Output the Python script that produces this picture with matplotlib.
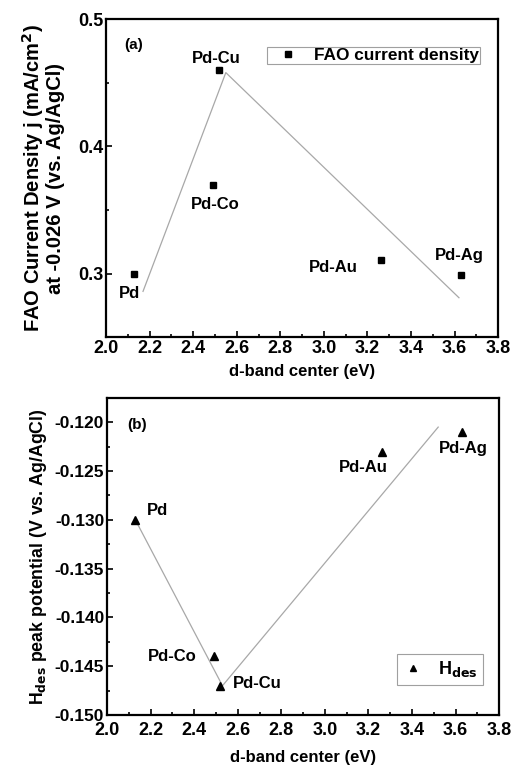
import matplotlib
matplotlib.use("Agg")
import matplotlib.pyplot as plt
from matplotlib.ticker import MultipleLocator

plt.rcParams['font.family'] = ['Liberation Sans', 'DejaVu Sans']
plt.rcParams['font.weight'] = 'bold'
plt.rcParams['axes.labelweight'] = 'bold'
plt.rcParams['mathtext.default'] = 'bf'

# data
names = ['Pd', 'Pd-Co', 'Pd-Cu', 'Pd-Au', 'Pd-Ag']
d_band = [2.13, 2.49, 2.52, 3.26, 3.63]
fao_j = [0.300, 0.370, 0.460, 0.311, 0.299]
h_des = [-0.130, -0.144, -0.147, -0.123, -0.121]

# guide lines drawn in the figure
fao_line_x = [2.17, 2.55, 3.62]
fao_line_y = [0.286, 0.458, 0.281]
hdes_line_x = [2.13, 2.53, 3.52]
hdes_line_y = [-0.130, -0.147, -0.1205]

# label positions (data coords)
fao_lab = {'Pd': (2.11, 0.284), 'Pd-Co': (2.50, 0.3546), 'Pd-Cu': (2.505, 0.469),
           'Pd-Au': (3.042, 0.305), 'Pd-Ag': (3.62, 0.3145)}
hdes_lab = {'Pd': (2.234, -0.129), 'Pd-Co': (2.298, -0.144), 'Pd-Cu': (2.689, -0.1468),
            'Pd-Au': (3.176, -0.1246), 'Pd-Ag': (3.635, -0.1227)}

fig = plt.figure(figsize=(5.12, 7.68), dpi=100)
ax1 = fig.add_axes([0.207, 0.561, 0.766, 0.414])
ax2 = fig.add_axes([0.209, 0.069, 0.766, 0.413])

tick_fs = 13
lab_fs = 12


def style(ax):
    ax.set_xlim(2.0, 3.8)
    ax.xaxis.set_major_locator(MultipleLocator(0.2))
    ax.xaxis.set_minor_locator(MultipleLocator(0.1))
    ax.tick_params(which='both', direction='in', top=False, right=False, labelsize=tick_fs, width=1.2)
    ax.tick_params(which='major', length=4, pad=2)
    ax.tick_params(which='minor', length=2.5)
    for s in ax.spines.values():
        s.set_linewidth(1.6)
    for t in ax.get_xticklabels() + ax.get_yticklabels():
        t.set_fontweight('bold')


# (a)
ax1.plot(fao_line_x, fao_line_y, color='#a8a8a8', lw=0.9)
ax1.plot(d_band, fao_j, 's', color='black', ms=4.5, label='FAO current density')
ax1.set_ylim(0.25, 0.5)
ax1.yaxis.set_major_locator(MultipleLocator(0.1))
ax1.yaxis.set_minor_locator(MultipleLocator(0.05))
style(ax1)
ax1.set_xlabel('d-band center (eV)', fontsize=12, labelpad=5)
ax1.set_ylabel('FAO Current Density j (mA/cm$^2$)\nat -0.026 V (vs. Ag/AgCl)', fontsize=14.5,
               labelpad=9, linespacing=1.0)
ax1.text(2.083, 0.4796, '(a)', fontsize=11, fontweight='bold', va='center')
for n in names:
    x, y = fao_lab[n]
    ax1.text(x, y, n, fontsize=lab_fs, fontweight='bold', ha='center', va='center')
leg1 = ax1.legend(loc='upper right', bbox_to_anchor=(0.954, 0.912), fontsize=12.4, frameon=True,
                  fancybox=False, edgecolor='#888888', handlelength=2.3, handletextpad=0.4,
                  borderpad=0.05, borderaxespad=0, markerscale=0.9)
leg1.get_frame().set_linewidth(0.8)

# (b)
ax2.plot(hdes_line_x, hdes_line_y, color='#a8a8a8', lw=0.9)
ax2.plot(d_band, h_des, '^', color='black', ms=5.5, label='H$_{des}$')
ax2.set_ylim(-0.15, -0.1175)
ax2.yaxis.set_major_locator(MultipleLocator(0.005))
ax2.yaxis.set_minor_locator(MultipleLocator(0.0025))
ax2.yaxis.set_major_formatter(plt.FormatStrFormatter('%.3f'))
style(ax2)
ax2.tick_params(axis='y', labelsize=12.5)
ax2.tick_params(axis='x', which='major', pad=5)
ax2.set_xlabel('d-band center (eV)', fontsize=12, labelpad=8)
ax2.set_ylabel('H$_{des}$ peak potential (V vs. Ag/AgCl)', fontsize=12.8, labelpad=4)
ax2.text(2.092, -0.1203, '(b)', fontsize=11, fontweight='bold', va='center')
for n in names:
    x, y = hdes_lab[n]
    ax2.text(x, y, n, fontsize=lab_fs, fontweight='bold', ha='center', va='center')
leg2 = ax2.legend(loc='lower right', bbox_to_anchor=(0.959, 0.095), fontsize=13, frameon=True,
                  fancybox=False, edgecolor='#888888', handlelength=1.2, handletextpad=0.8,
                  borderpad=0.3, borderaxespad=0, markerscale=0.9)
leg2.get_frame().set_linewidth(0.8)

fig.savefig('out.png', dpi=100)
